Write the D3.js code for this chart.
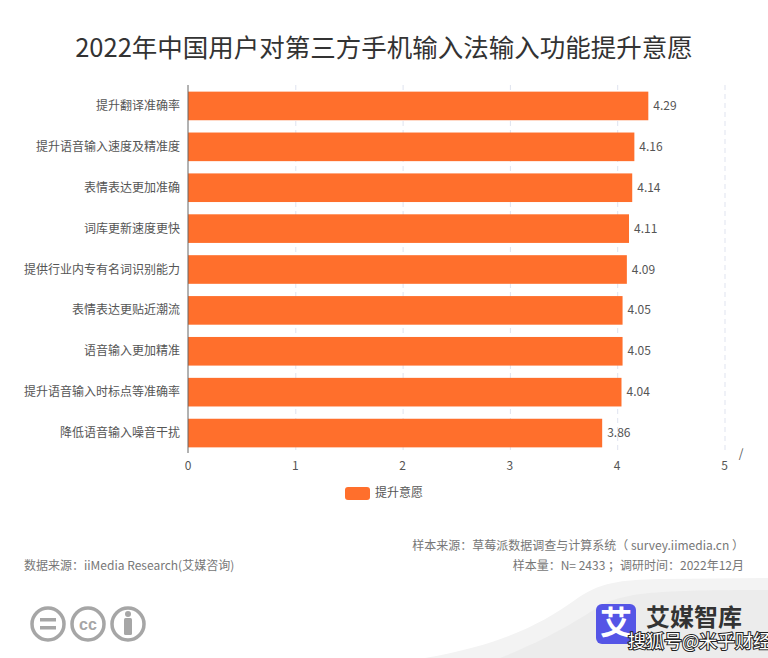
<!DOCTYPE html>
<html><head><meta charset="utf-8">
<script src="https://cdn.jsdelivr.net/npm/d3@7"></script>
<style>html,body{margin:0;padding:0;background:#fff}svg{display:block}
text{font-family:"Noto Sans CJK SC","Noto Sans",sans-serif}</style></head>
<body><div id="c"></div>
<script>
const categories=["提升翻译准确率","提升语音输入速度及精准度","表情表达更加准确","词库更新速度更快","提供行业内专有名词识别能力","表情表达更贴近潮流","语音输入更加精准","提升语音输入时标点等准确率","降低语音输入噪音干扰"];
const values=[4.29,4.16,4.14,4.11,4.09,4.05,4.05,4.04,3.86];
const xTicks=[0,1,2,3,4,5];
const seriesName="提升意愿";
const title="2022年中国用户对第三方手机输入法输入功能提升意愿";
const W=768,H=658;
const svg=d3.select("#c").append("svg").attr("width",W).attr("height",H);
const x=d3.scaleLinear().domain([0,5]).range([188,724.5]);
const y=d3.scaleBand().domain(categories).range([85.5,453.5]).paddingInner(0.3).paddingOuter(0.15);

// background swoosh and brand
svg.append("path").attr("d","M425 658 C500 645 540 625 575 600 C600 582 620 580 660 579 L768 578 L768 658 Z").attr("fill","#f3f3f3");
svg.append("path").attr("d","M500 658 C545 640 570 625 600 606 C625 592 660 590 768 590 L768 658 Z").attr("fill","#ececec");

svg.append("text").attr("x",384).attr("y",57).attr("text-anchor","middle").attr("font-size",25.5).attr("fill","#333").text(title);

// grid
svg.append("g").selectAll("line").data(xTicks.slice(1)).join("line")
 .attr("x1",d=>x(d)+.5).attr("x2",d=>x(d)+.5).attr("y1",85).attr("y2",453)
 .attr("stroke","#dfe3ef").attr("stroke-dasharray","5 4");
// bars
svg.append("g").selectAll("rect").data(values).join("rect")
 .attr("x",x(0)).attr("y",(d,i)=>y(categories[i])).attr("width",d=>x(d)-x(0)).attr("height",y.bandwidth())
 .attr("fill","#ff6f2c");
// y axis
svg.append("line").attr("x1",188).attr("x2",188).attr("y1",85).attr("y2",453).attr("stroke","#666");
svg.append("g").selectAll("text").data(categories).join("text")
 .attr("x",180).attr("y",d=>y(d)+y.bandwidth()/2+4).attr("text-anchor","end").attr("font-size",12).attr("fill","#555").text(d=>d);
// values
svg.append("g").selectAll("text").data(values).join("text")
 .attr("x",d=>x(d)+5).attr("y",(d,i)=>y(categories[i])+y.bandwidth()/2+4).attr("font-size",12).attr("fill","#555").text(d=>d.toFixed(2));
// x ticks
svg.append("g").selectAll("text").data(xTicks).join("text")
 .attr("x",d=>x(d)).attr("y",470).attr("text-anchor","middle").attr("font-size",12).attr("fill","#555").text(d=>d);
svg.append("text").attr("x",741).attr("y",458).attr("text-anchor","middle").attr("font-size",12).attr("fill","#555").text("/");
// legend
svg.append("rect").attr("x",345).attr("y",487).attr("width",25).attr("height",13).attr("rx",3).attr("fill","#ff6f2c");
svg.append("text").attr("x",375).attr("y",497).attr("font-size",12).attr("fill","#555").text(seriesName);
// notes
svg.append("text").attr("x",24).attr("y",570).attr("font-size",12).attr("fill","#777").text("数据来源：iiMedia Research(艾媒咨询)");
svg.append("text").attr("x",744).attr("y",550).attr("text-anchor","end").attr("font-size",12).attr("fill","#777").text("样本来源：草莓派数据调查与计算系统（ survey.iimedia.cn ）");
svg.append("text").attr("x",744).attr("y",570).attr("text-anchor","end").attr("font-size",12).attr("fill","#777").text("样本量：N= 2433 ；调研时间：2022年12月");
// cc icons
const cc=svg.append("g");
[48,88,128].forEach(cx=>cc.append("circle").attr("cx",cx).attr("cy",624).attr("r",16).attr("fill","#fff").attr("stroke","#a6a6a6").attr("stroke-width",3.5));
cc.append("rect").attr("x",40).attr("y",618).attr("width",16).attr("height",3.5).attr("fill","#a6a6a6");
cc.append("rect").attr("x",40).attr("y",626).attr("width",16).attr("height",3.5).attr("fill","#a6a6a6");
cc.append("text").attr("x",88).attr("y",630).attr("text-anchor","middle").attr("font-size",16).attr("font-weight",700).attr("fill","#a6a6a6").style("font-family","Liberation Sans").text("cc");
cc.append("circle").attr("cx",128).attr("cy",614).attr("r",3).attr("fill","#a6a6a6");
cc.append("rect").attr("x",124).attr("y",618).attr("width",8).attr("height",17).attr("rx",1.5).attr("fill","#a6a6a6");
// brand
svg.append("rect").attr("x",596).attr("y",604).attr("width",40).attr("height",40).attr("rx",6).attr("fill","#5555e6");
svg.append("text").attr("x",616).attr("y",634).attr("text-anchor","middle").attr("font-size",32).attr("font-weight",700).attr("fill","#fff").text("艾");
svg.append("text").attr("x",646).attr("y",626).attr("font-size",24).attr("font-weight",700).attr("fill","#333").text("艾媒智库");
svg.append("text").attr("x",628).attr("y",648).attr("font-size",18).attr("fill","#fff").attr("stroke","#222").attr("stroke-width",2).attr("paint-order","stroke").text("搜狐号@米乎财经");
</script></body></html>
